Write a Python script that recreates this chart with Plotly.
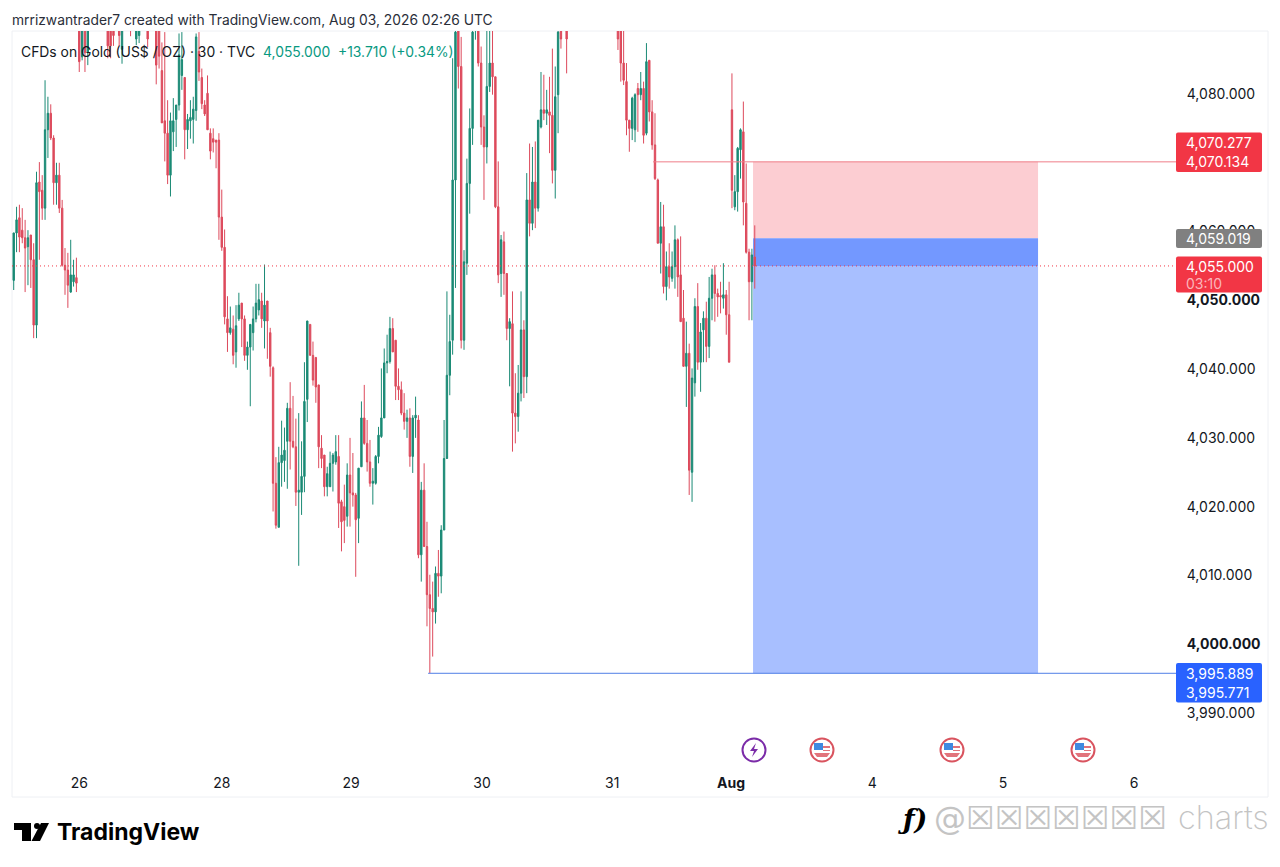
import plotly.graph_objects as go

N = None

# 30 minute bars. N = bar sits above the visible window
opens = [
    4052.9, 4059.8, 4062.0, 4060.2, 4059.1, 4057.8, 4059.5, 4055.9, 4046.4, 4067.2,
    4066.0, 4063.4, 4074.8, 4077.2, 4073.6, 4067.1, 4068.2, 4063.4, 4055.1, 4054.4,
    4051.2, 4052.7, 4053.3, 4090.5, 4085.4, 4090.0, 4086.0, N, N, N,
    N, N, N, 4090.0, 4090.0, 4090.0, N, 4090.0, 4086.5, N,
    N, 4090.5, N, 4088.0, 4088.5, N, N, 4090.5, N, N,
    4090.0, 4090.0, 4083.4, 4076.1, 4074.3, 4068.2, 4074.5, 4076.3, 4078.4, 4082.7,
    4082.4, 4074.8, 4076.1, 4076.3, 4077.6, 4086.2, 4082.4, 4078.4, 4080.1, 4074.3,
    4073.5, 4073.3, 4073.3, 4062.1, 4057.7, 4047.3, 4045.3, 4045.8, 4042.5, 4047.3,
    4049.6, 4047.3, 4042.0, 4043.2, 4045.3, 4047.3, 4048.6, 4049.9, 4047.0, 4049.9,
    4045.3, 4040.2, 4023.4, 4017.0, 4026.4, 4026.7, 4029.5, 4034.3, 4029.5, 4028.7,
    4022.1, 4022.1, 4024.4, 4035.6, 4046.5, 4042.0, 4041.7, 4037.7, 4028.5, 4027.5,
    4022.9, 4022.9, 4026.3, 4026.5, 4027.3, 4020.7, 4020.0, 4018.6, 4024.6, 4022.0,
    4021.7, 4018.3, 4025.8, 4032.9, 4029.2, 4026.5, 4023.4, 4023.4, 4027.3, 4030.2,
    4032.9, 4040.9, 4041.1, 4045.9, 4044.2, 4037.5, 4037.0, 4033.6, 4032.4, 4032.9,
    4027.3, 4032.9, 4032.6, 4013.0, 4022.4, 4014.2, 4007.2, 4005.2, 4004.7, 4010.3,
    4009.9, 4016.6, 4027.0, 4039.1, 4044.2, 4067.5, 4090.0, 4084.0, 4044.2, 4055.4,
    4067.0, 4075.0, 4089.5, 4090.0, 4084.5, 4075.2, 4072.3, 4081.1, 4084.5, 4082.5,
    4063.6, 4053.9, 4058.5, 4053.9, 4045.9, 4046.6, 4033.6, 4033.1, 4036.5, 4045.7,
    4038.9, 4064.6, 4061.2, 4067.2, 4063.4, 4075.2, 4077.7, 4077.2, 4077.4, 4076.9,
    4068.9, 4079.9, 4090.0, N, 4091.0, N, N, N, N, N,
    N, N, N, N, N, N, N, N, N, N,
    N, N, 4091.0, 4090.0, 4084.5, 4081.8, 4076.2, 4075.0, 4074.8, 4080.8,
    4079.9, 4080.8, 4074.3, 4084.9, 4077.4, 4072.6, 4067.5, 4058.3, 4060.7, 4052.0,
    4054.9, 4053.2, 4054.9, 4058.8, 4053.7, 4047.4, 4040.4, 4042.3, 4025.0, 4038.0,
    4049.1, 4041.0, 4045.7, 4047.4, 4043.3, 4050.3, 4053.7, 4051.0, 4050.7, 4050.3,
    4050.8, 4047.9, 4077.7, 4063.6, 4065.8, 4071.9, 4074.5, 4064.1, 4057.0, 4052.7,
    4056.3,
]
highs = [
    4059.8, 4063.6, 4063.9, 4063.4, 4061.7, 4060.2, 4059.5, 4058.3, 4068.7, 4070.1,
    4068.2, 4082.0, 4079.6, 4078.5, 4074.0, 4070.0, 4070.0, 4064.6, 4057.6, 4056.9,
    4058.8, 4055.9, 4056.2, 4092.0, 4092.0, 4092.0, 4092.0, N, N, N,
    N, N, N, 4091.0, 4091.0, 4091.0, N, 4091.0, 4091.0, N,
    N, 4091.0, N, 4091.0, 4091.0, N, N, 4091.0, N, N,
    4091.0, 4091.0, 4087.5, 4089.0, 4079.1, 4077.3, 4079.4, 4078.4, 4088.8, 4089.0,
    4082.4, 4077.1, 4079.1, 4079.6, 4088.8, 4089.0, 4083.7, 4079.1, 4082.7, 4075.0,
    4075.0, 4073.3, 4074.3, 4066.1, 4060.3, 4050.6, 4049.1, 4047.8, 4049.3, 4051.1,
    4049.6, 4047.8, 4044.0, 4046.5, 4049.1, 4052.4, 4052.4, 4051.1, 4055.2, 4049.9,
    4046.0, 4040.4, 4027.2, 4028.7, 4032.5, 4031.5, 4035.1, 4038.1, 4036.1, 4032.8,
    4033.6, 4029.5, 4041.0, 4047.0, 4046.5, 4044.0, 4041.7, 4037.7, 4030.4, 4027.5,
    4025.8, 4028.0, 4027.8, 4030.4, 4030.4, 4021.0, 4023.2, 4026.3, 4030.0, 4027.8,
    4022.0, 4025.6, 4035.3, 4037.7, 4032.6, 4029.7, 4025.6, 4027.5, 4031.6, 4040.1,
    4043.0, 4045.0, 4047.6, 4047.4, 4044.2, 4040.1, 4038.2, 4036.5, 4034.1, 4034.3,
    4033.3, 4036.0, 4033.3, 4023.6, 4026.3, 4017.8, 4010.1, 4009.1, 4011.3, 4013.7,
    4017.3, 4032.6, 4051.3, 4047.9, 4085.2, 4091.0, 4091.0, 4088.3, 4057.3, 4070.6,
    4077.9, 4091.0, 4092.0, 4091.0, 4086.9, 4076.9, 4091.0, 4091.0, 4091.0, 4082.5,
    4070.2, 4059.5, 4060.0, 4053.9, 4047.4, 4051.3, 4039.4, 4040.6, 4051.3, 4047.1,
    4068.5, 4072.8, 4072.3, 4073.1, 4076.2, 4083.2, 4082.8, 4080.6, 4082.5, 4086.6,
    4084.0, 4091.0, 4091.0, N, 4092.0, N, N, N, N, N,
    N, N, N, N, N, N, N, N, N, N,
    N, N, 4092.0, 4091.0, 4091.0, 4084.5, 4076.2, 4079.6, 4080.1, 4081.6,
    4083.2, 4081.8, 4087.4, 4084.9, 4079.1, 4077.2, 4067.7, 4064.3, 4063.9, 4057.1,
    4058.3, 4057.1, 4060.9, 4059.0, 4059.3, 4051.5, 4046.9, 4043.7, 4040.1, 4050.3,
    4052.5, 4046.7, 4048.4, 4049.8, 4053.4, 4054.6, 4055.1, 4051.7, 4052.7, 4055.4,
    4051.5, 4052.7, 4083.0, 4068.2, 4072.3, 4075.0, 4078.9, 4069.9, 4057.5, 4057.5,
    4060.9,
]
lows = [
    4051.5, 4057.0, 4057.0, 4058.3, 4051.2, 4052.2, 4051.8, 4044.5, 4044.5, 4055.9,
    4061.7, 4061.7, 4070.7, 4073.3, 4063.9, 4063.9, 4062.7, 4054.9, 4050.8, 4048.9,
    4051.1, 4052.0, 4051.2, 4083.2, 4084.9, 4083.2, 4084.2, N, N, N,
    N, N, N, 4085.2, 4085.2, 4087.0, N, 4087.0, 4084.4, N,
    N, 4088.4, N, 4087.1, 4087.4, N, N, 4086.8, N, N,
    4081.4, 4083.7, 4075.8, 4070.2, 4066.9, 4065.1, 4071.7, 4072.3, 4077.6, 4080.6,
    4070.5, 4072.0, 4073.5, 4072.8, 4076.1, 4081.9, 4077.8, 4076.8, 4074.8, 4070.5,
    4071.5, 4069.2, 4058.8, 4057.2, 4046.5, 4042.5, 4045.0, 4040.7, 4040.2, 4047.0,
    4043.2, 4041.2, 4039.9, 4034.6, 4042.7, 4046.8, 4047.8, 4046.0, 4043.0, 4041.5,
    4038.9, 4019.3, 4016.8, 4017.0, 4022.9, 4023.6, 4022.6, 4025.4, 4028.5, 4020.1,
    4011.4, 4018.8, 4022.1, 4032.3, 4042.0, 4037.6, 4035.1, 4025.6, 4025.6, 4021.5,
    4021.5, 4022.9, 4022.2, 4026.1, 4016.9, 4013.5, 4014.7, 4017.1, 4017.1, 4020.0,
    4009.8, 4014.7, 4025.8, 4029.0, 4025.1, 4022.9, 4020.3, 4023.2, 4026.3, 4030.0,
    4032.9, 4039.4, 4040.8, 4042.5, 4035.5, 4035.5, 4033.3, 4031.2, 4030.0, 4025.8,
    4024.9, 4030.0, 4012.5, 4009.1, 4014.2, 4002.6, 3995.8, 3998.2, 4003.0, 4006.9,
    4007.4, 4016.6, 4027.3, 4036.2, 4042.1, 4051.8, 4080.8, 4043.0, 4042.8, 4053.7,
    4062.6, 4072.6, 4087.9, 4084.0, 4072.6, 4064.6, 4069.9, 4080.3, 4079.9, 4063.4,
    4052.5, 4050.5, 4050.8, 4044.2, 4037.5, 4028.0, 4029.2, 4030.9, 4035.3, 4035.8,
    4036.5, 4059.3, 4060.2, 4060.5, 4062.9, 4075.0, 4076.2, 4075.5, 4071.4, 4067.0,
    4064.8, 4074.3, 4086.6, N, 4083.0, N, N, N, N, N,
    N, N, N, N, N, N, N, N, N, N,
    N, N, 4086.4, 4081.8, 4081.3, 4074.0, 4071.6, 4073.3, 4073.0, 4074.5,
    4079.1, 4072.8, 4074.0, 4076.0, 4071.9, 4067.5, 4058.3, 4053.9, 4051.0, 4050.0,
    4051.7, 4052.7, 4051.7, 4050.5, 4046.9, 4040.4, 4034.5, 4021.7, 4020.7, 4036.0,
    4039.9, 4036.7, 4041.0, 4041.0, 4041.6, 4047.1, 4046.9, 4047.6, 4048.1, 4048.8,
    4045.0, 4041.0, 4063.4, 4063.1, 4062.9, 4067.7, 4060.9, 4056.8, 4047.1, 4047.1,
    4051.7,
]
closes = [
    4059.8, 4061.7, 4059.2, 4059.1, 4057.6, 4059.1, 4055.9, 4046.4, 4067.1, 4065.8,
    4063.4, 4074.8, 4077.2, 4073.6, 4067.1, 4068.2, 4063.4, 4055.1, 4054.4, 4052.2,
    4053.7, 4053.7, 4052.5, 4084.7, 4090.0, 4086.0, 4090.0, N, N, N,
    N, N, N, 4087.0, 4087.0, 4088.5, N, 4088.5, 4090.0, N,
    N, 4089.5, N, 4090.5, 4090.5, N, N, 4088.0, N, N,
    4084.2, 4085.5, 4075.8, 4074.3, 4068.2, 4076.1, 4076.1, 4078.4, 4085.7, 4085.0,
    4074.8, 4076.3, 4076.6, 4077.8, 4088.3, 4083.2, 4078.6, 4077.1, 4074.8, 4071.7,
    4073.0, 4073.0, 4062.1, 4057.7, 4047.6, 4045.3, 4046.0, 4042.0, 4046.3, 4049.3,
    4047.3, 4042.0, 4043.2, 4046.5, 4047.3, 4049.6, 4050.1, 4047.3, 4049.3, 4047.0,
    4040.4, 4023.4, 4017.3, 4026.4, 4027.5, 4028.2, 4034.3, 4029.5, 4028.7, 4022.1,
    4022.4, 4024.4, 4035.3, 4047.0, 4042.0, 4038.4, 4037.4, 4028.7, 4027.0, 4022.9,
    4024.8, 4026.3, 4027.5, 4028.0, 4020.5, 4017.8, 4018.0, 4024.6, 4022.0, 4021.7,
    4018.1, 4025.6, 4032.9, 4029.2, 4026.5, 4023.4, 4023.7, 4027.3, 4030.4, 4032.9,
    4040.9, 4041.1, 4045.9, 4042.5, 4037.5, 4037.0, 4033.6, 4032.4, 4032.9, 4027.3,
    4032.9, 4033.3, 4013.0, 4022.4, 4014.2, 4007.2, 4005.2, 4004.7, 4010.3, 4009.9,
    4016.6, 4027.0, 4039.1, 4044.0, 4067.5, 4089.0, 4084.0, 4044.2, 4055.6, 4067.0,
    4075.0, 4089.0, 4091.0, 4084.5, 4075.2, 4072.3, 4081.1, 4084.5, 4082.5, 4063.6,
    4053.7, 4058.8, 4053.9, 4045.9, 4046.9, 4033.6, 4033.1, 4036.5, 4045.7, 4038.9,
    4064.6, 4061.2, 4067.2, 4063.4, 4076.2, 4077.7, 4077.2, 4077.7, 4076.9, 4068.9,
    4079.6, 4089.0, 4088.0, N, 4088.0, N, N, N, N, N,
    N, N, N, N, N, N, N, N, N, N,
    N, N, 4088.0, 4084.5, 4082.0, 4076.2, 4075.0, 4079.4, 4079.9, 4079.9,
    4080.8, 4074.0, 4084.7, 4077.4, 4072.6, 4067.7, 4058.3, 4060.7, 4052.0, 4054.9,
    4053.4, 4054.9, 4058.8, 4053.4, 4046.9, 4040.4, 4042.3, 4025.3, 4038.7, 4049.1,
    4041.0, 4045.4, 4047.4, 4043.3, 4050.3, 4053.7, 4051.0, 4050.5, 4050.5, 4050.8,
    4047.9, 4041.0, 4066.0, 4065.8, 4072.1, 4074.8, 4064.3, 4057.0, 4052.7, 4056.6,
    4055.0,
]

# 4,070 is hidden behind the stop tags in the original
price_ticks = [3990, 4000, 4010, 4020, 4030, 4040, 4050, 4060, 4080]
price_labels = ["3,990.000", "<b>4,000.000</b>", "4,010.000", "4,020.000", "4,030.000",
                "4,040.000", "<b>4,050.000</b>", "4,060.000", "4,080.000"]
date_ticks = [23, 73, 118.4, 164.3, 210, 251.7, 301.2, 347.1, 393.1]
date_labels = ["26", "28", "29", "30", "31", "<b>Aug</b>", "4", "5", "6"]

last_price = 4055.0
entry_price = 4059.019
stop_price = 4070.134
target_price = 3995.771
tool_start, tool_end = 259.4, 359.4
stop_line_start, target_line_start = 224.3, 145.4

GREEN = "#089981"
RED = "#f23645"
CANDLE_GREEN = "#1a8a75"
CANDLE_RED = "#dd4a5c"
BLUE = "#2962ff"
TEXT = "#131722"
FONT = "Inter"

# the page puts an 8px margin round the plot, so the canvas starts at (8, 8)
PAGE = 8
W, H = 1264, 851
L, R, T, B = 12, 1176, 31, 768


def px_x(x):
    return (x - L) / (R - L)


def px_y(y):
    return 1 - (y - T) / (B - T)


def label(x, y, text, color=TEXT, size=14, anchor="left", font=FONT, weight=None):
    # annotations carry a couple of pixels of padding on the left
    return dict(xref="paper", yref="paper", x=px_x(x - 2), y=px_y(y), text=text, showarrow=False,
                xanchor=anchor, yanchor="middle", font=dict(family=font, size=size, color=color, weight=weight))


def box(x0, y0, x1, y1, fill, r=2):
    # price tag with slightly rounded corners
    a, b, c, d = px_x(x0), px_y(y0), px_x(x1), px_y(y1)
    rx, ry = r / (R - L), r / (B - T)
    path = (f"M {a + rx} {b} L {c - rx} {b} Q {c} {b} {c} {b - ry} L {c} {d + ry} Q {c} {d} {c - rx} {d} "
            f"L {a + rx} {d} Q {a} {d} {a} {d + ry} L {a} {b - ry} Q {a} {b} {a + rx} {b} Z")
    return dict(type="path", xref="paper", yref="paper", path=path, fillcolor=fill, line=dict(width=0))


def poly(points, fill):
    path = "M " + " L ".join(f"{px_x(x)} {px_y(y)}" for x, y in points) + " Z"
    return dict(type="path", xref="paper", yref="paper", path=path, fillcolor=fill, line=dict(width=0))


def circle(cx, cy, r, fill, line, width=2):
    return dict(type="circle", xref="paper", yref="paper", x0=px_x(cx - r), x1=px_x(cx + r),
                y0=px_y(cy + r), y1=px_y(cy - r), fillcolor=fill, line=dict(color=line, width=width))


def flag(cx, cy):
    return [
        circle(cx, cy, 11.5, "white", "#d9545f"),
        poly([(cx - 8, cy - 7), (cx + 1, cy - 7), (cx + 1, cy), (cx - 8, cy)], "#3f8ae0"),
        poly([(cx + 1, cy - 4), (cx + 8, cy - 4), (cx + 8, cy - 2), (cx + 1, cy - 2)], "#e2737b"),
        poly([(cx + 1, cy), (cx + 8, cy), (cx + 8, cy + 1), (cx + 1, cy + 1)], "#e2737b"),
        poly([(cx - 8, cy + 3), (cx + 8, cy + 3), (cx + 5, cy + 7), (cx - 5, cy + 7)], "#e2737b"),
    ]


shapes = [
    # long position tool
    dict(type="rect", x0=tool_start, x1=tool_end, y0=entry_price, y1=stop_price, fillcolor="#fccdd2",
         line=dict(width=0), layer="below"),
    dict(type="rect", x0=tool_start, x1=tool_end, y0=target_price, y1=last_price, fillcolor="#a8bfff",
         line=dict(width=0), layer="below"),
    dict(type="rect", x0=tool_start, x1=tool_end, y0=last_price, y1=entry_price, fillcolor="#7398ff",
         line=dict(width=0), layer="below"),
    dict(type="line", xref="x domain", x0=0, x1=1, y0=last_price, y1=last_price,
         line=dict(color=RED, width=1, dash="1px 3px")),
    dict(type="line", x0=stop_line_start, x1=407.8, y0=stop_price, y1=stop_price,
         line=dict(color="#ef7d88", width=1)),
    dict(type="line", x0=target_line_start, x1=407.8, y0=target_price, y1=target_price,
         line=dict(color="#4f7fe6", width=1)),
    # pane frame
    dict(type="rect", xref="paper", yref="paper", x0=px_x(12), x1=px_x(1268), y0=px_y(797), y1=px_y(31),
         line=dict(color="#eef0f4", width=1), layer="below"),
    # price tags
    box(1176, 132.5, 1262, 172, RED),
    box(1176, 229, 1262, 248, "#808080"),
    box(1176, 256.5, 1262, 292.5, RED),
    box(1176, 663, 1262, 702.5, BLUE),
    # lightning event
    circle(754, 750, 11.5, "white", "#7b2ca8"),
    poly([(756, 743), (750, 751), (754, 751), (752, 757), (758, 749), (754, 749)], "#7b2ca8"),
    # TradingView logo
    poly([(14, 823), (31, 823), (31, 841), (22, 841), (22, 830), (14, 830)], "#000000"),
    circle(37, 826, 3, "#000000", "#000000", 0),
    poly([(41, 823), (49, 823), (40, 841), (31.5, 841)], "#000000"),
]
for cx in [822, 952, 1083]:
    shapes += flag(cx, 750)

annotations = [
    label(12, 20, "mrrizwantrader7 created with TradingView.com, Aug 03, 2026 02:26 UTC", "#2a2e39", 13.8),
    label(21, 52, "CFDs on Gold (US$ / OZ) · 30 · TVC", TEXT, 13.9),
    label(263, 52, "4,055.000", GREEN, 13.9),
    label(338, 52, "+13.710 (+0.34%)", GREEN, 13.9),
    label(1186, 142, "4,070.277", "#ffffff"),
    label(1186, 161.5, "4,070.134", "#ffffff"),
    label(1186, 238.5, "4,059.019", "#ffffff"),
    label(1186, 266, "4,055.000", "#ffffff"),
    label(1186, 283, "03:10", "#fbb4ba"),
    label(1186, 673, "3,995.889", "#ffffff"),
    label(1186, 692, "3,995.771", "#ffffff"),
    label(57, 832, "<b>TradingView</b>", "#000000", 23),
    label(898, 820, "<b><i>ƒ)</i></b>", "#000000", 27, font="DejaVu Serif"),
    label(934, 818, "@☒☒☒☒☒☒☒", "#c4c4c4", 32, font="DejaVu Sans"),
    label(1178, 818, "charts", "#c4c4c4", 32.5, weight=200),
]

fig = go.Figure(go.Candlestick(
    x=list(range(len(opens))), open=opens, high=highs, low=lows, close=closes,
    increasing=dict(line=dict(color=CANDLE_GREEN, width=1), fillcolor=CANDLE_GREEN),
    decreasing=dict(line=dict(color=CANDLE_RED, width=1), fillcolor=CANDLE_RED),
    whiskerwidth=0, showlegend=False, hoverinfo="skip",
))
fig.update_layout(
    width=W, height=H, margin=dict(l=L - PAGE, r=W - (R - PAGE), t=T - PAGE, b=H - (B - PAGE)),
    paper_bgcolor="white", plot_bgcolor="white", showlegend=False,
    font=dict(family=FONT, size=14, color=TEXT),
    shapes=shapes, annotations=annotations,
    xaxis=dict(range=[-0.6, 407.8], rangeslider=dict(visible=False), showgrid=False, zeroline=False,
               tickmode="array", tickvals=date_ticks, ticktext=date_labels,
               ticks="outside", ticklen=2, tickcolor="white", showline=False),
    yaxis=dict(range=[3982.0, 4089.16], side="right", showgrid=False, zeroline=False,
               tickmode="array", tickvals=price_ticks, ticktext=price_labels,
               ticks="outside", ticklen=7, tickcolor="white", showline=False),
)
fig.write_html("out.html", config=dict(displayModeBar=False))
